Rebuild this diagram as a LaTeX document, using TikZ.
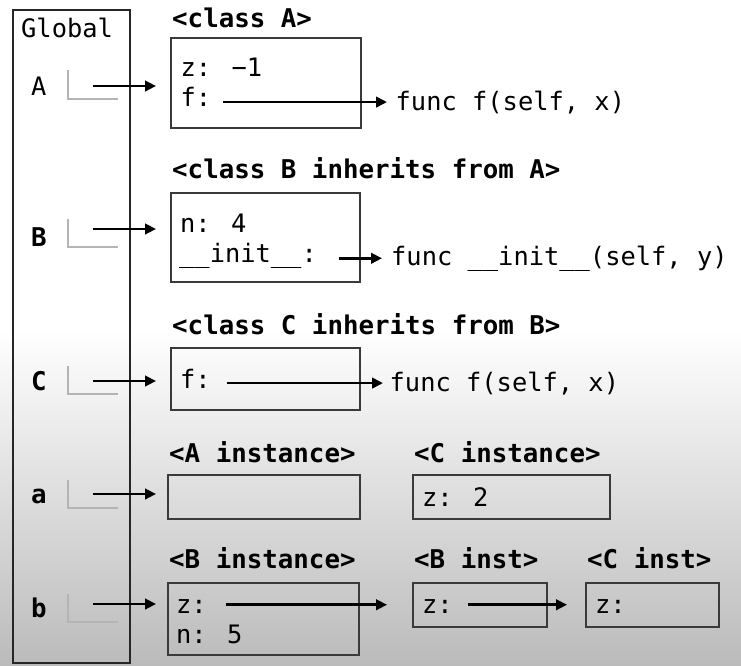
\documentclass[tikz,border=0pt]{standalone}
\usepackage{fontspec}
\usetikzlibrary{arrows.meta}
\newfontfamily\monof{DejaVu Sans Mono}
\definecolor{bgbot}{HTML}{BBBBBB}
\definecolor{boxc}{HTML}{3A3A3A}
\definecolor{brc}{HTML}{B4B4B4}
\tikzset{
  txt/.style={anchor=base west, inner sep=0pt, font=\monof\fontsize{25.4}{30}\selectfont},
  btxt/.style={anchor=base west, inner sep=0pt, font=\monof\bfseries\fontsize{25.8}{30}\selectfont},
  obj/.style={draw=boxc, line width=1.5pt, anchor=north west, inner sep=0pt},
  arr/.style={line width=2.6pt, -{Triangle[length=11pt,width=10.5pt]}},
  brk/.style={draw=brc, line width=1.1pt},
}
\begin{document}
\begin{tikzpicture}[x=1pt,y=-1pt]
\useasboundingbox (0,0) rectangle (741,665);
\fill[white] (0,0) rectangle (741,665);
\shade[top color=white, bottom color=bgbot] (0,330) rectangle (741,665);

% Global frame
\node[obj, draw=black!85, minimum width=117pt, minimum height=653pt] (glob) at (12,9) {};
\node[txt] (globt) at (21,37) {Global};

% global names and brackets
\node[txt]  (nA) at (31,95)  {A};
\node[btxt] (nB) at (31,246) {B};
\node[btxt] (nC) at (31,390) {C};
\node[btxt] (na) at (31,503) {a};
\node[btxt] (nb) at (31,617) {b};
\draw[brk] (68,70)  -- (68,99)  -- (118,99);
\draw[brk] (68,219) -- (68,247) -- (118,247);
\draw[brk] (68,366) -- (68,394) -- (118,394);
\draw[brk] (68,480) -- (68,508) -- (118,508);
\draw[brk] (68,594) -- (68,622) -- (118,622);
\coordinate (gA) at (93,86);
\coordinate (gB) at (93,229);
\coordinate (gC) at (93,381);
\coordinate (ga) at (93,494);
\coordinate (gb) at (93,604);

% class A
\node[btxt] (lA) at (172,27) {<class A>};
\node[obj, minimum width=190pt, minimum height=90pt] (boxA) at (170,37) {};
\node[txt] (zA) at (180.5,76) {z: −1};
\node[txt] (fA) at (180.5,106) {f:};
\node[txt] (funcA) at (395.5,110) {func f(self, x)};
\draw[arr, shorten <=12pt, shorten >=8.5pt] (fA.east |- funcA.west) -- (funcA.west);

% class B
\node[btxt] (lB) at (172,178) {<class B inherits from A>};
\node[obj, minimum width=189pt, minimum height=89pt] (boxB) at (170,192) {};
\node[txt] (nBv) at (180,232) {n: 4};
\node[txt] (initB) at (179,262) {\_\_init\_\_:};
\node[txt] (funcB) at (391,265) {func \_\_init\_\_(self, y)};
\draw[arr, shorten <=21.5pt, shorten >=9pt] (initB.east |- funcB.west) -- (funcB.west);

% class C
\node[btxt] (lC) at (172,334) {<class C inherits from B>};
\node[obj, minimum width=189pt, minimum height=62pt] (boxC) at (170,347) {};
\node[txt] (fC) at (180,388) {f:};
\node[txt] (funcC) at (389.5,391) {func f(self, x)};
\draw[arr, shorten <=16pt, shorten >=6.5pt] (fC.east |- funcC.west) -- (funcC.west);

% instances row a
\node[btxt] (lAi) at (169,462) {<A instance>};
\node[obj, minimum width=192pt, minimum height=44pt] (ainst) at (167,474) {};
\node[btxt] (lCi) at (414,462) {<C instance>};
\node[obj, minimum width=197pt, minimum height=44pt] (cinst) at (412,474) {};
\node[txt] (zC2) at (422,506) {z: 2};

% instances row b
\node[btxt] (lBi) at (169,568) {<B instance>};
\node[obj, minimum width=191pt, minimum height=72pt] (binst) at (167,582) {};
\node[txt] (zb1) at (176,613) {z:};
\node[txt] (nb5) at (176,643) {n: 5};
\node[btxt] (lBs) at (414,568) {<B inst>};
\node[obj, minimum width=134pt, minimum height=44pt] (bsub) at (412,582) {};
\node[txt] (zb2) at (422,613) {z:};
\node[btxt] (lCs) at (587,568) {<C inst>};
\node[obj, minimum width=133pt, minimum height=44pt] (csub) at (585,582) {};
\node[txt] (zb3) at (595,613) {z:};
\draw[arr, shorten <=19pt, shorten >=25pt] (zb1.east |- bsub.west) -- (bsub.west);
\draw[arr, shorten <=15pt, shorten >=18pt] (zb2.east |- csub.west) -- (csub.west);

% global arrows
\draw[arr, shorten >=14pt] (gA) -- (gA -| boxA.west);
\draw[arr, shorten >=14pt] (gB) -- (gB -| boxB.west);
\draw[arr, shorten >=14pt] (gC) -- (gC -| boxC.west);
\draw[arr, shorten >=11pt] (ga) -- (ga -| ainst.west);
\draw[arr, shorten >=11pt] (gb) -- (gb -| binst.west);
\end{tikzpicture}
\end{document}
